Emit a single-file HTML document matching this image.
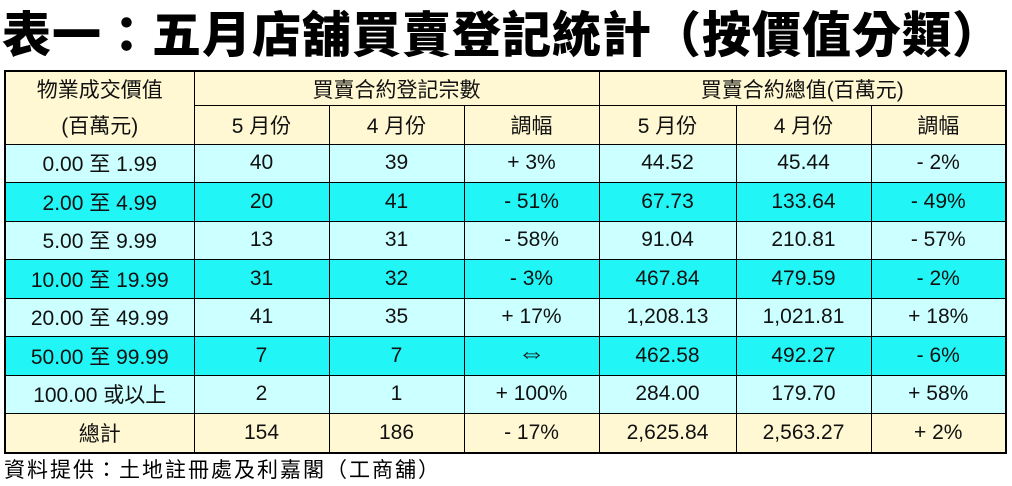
<!DOCTYPE html>
<html><head><meta charset="utf-8"><style>
body{margin:0;width:1012px;height:486px;background:#fff;position:relative;overflow:hidden;font-family:"Liberation Sans","Noto Sans CJK TC",sans-serif;}
#t{position:absolute;left:2px;top:-4px;font-size:49px;font-weight:900;white-space:nowrap;letter-spacing:1px;font-family:"Noto Sans CJK TC","WenQuanYi Zen Hei",sans-serif;}
table{position:absolute;left:4px;top:70px;border-collapse:collapse;font-size:21px;border:2px solid #000;}
td{border:1.5px solid #000;text-align:center;padding:0;height:37.5px;color:#111;}
.h{background:#fff8d2;}
.a{background:#ccffff;}
.b{background:#22f5f5;}
#f{position:absolute;left:4px;top:454px;font-size:21px;letter-spacing:2px;}
.ar{font-size:28px;line-height:20px;}
</style></head><body>
<div id="t">表一：五月店舖買賣登記統計（按價值分類）</div>
<table>
<colgroup><col style="width:189px"><col style="width:135px"><col style="width:135px"><col style="width:135px"><col style="width:137px"><col style="width:135px"><col style="width:135px"></colgroup>
<tr class="h"><td style="border-bottom:none;height:33px">物業成交價值</td><td colspan="3" style="height:33px">買賣合約登記宗數</td><td colspan="3" style="height:33px">買賣合約總值(百萬元)</td></tr>
<tr class="h"><td style="border-top:none">(百萬元)</td><td>5 月份</td><td>4 月份</td><td>調幅</td><td>5 月份</td><td>4 月份</td><td>調幅</td></tr>
<tr class="a"><td>0.00 至 1.99</td><td>40</td><td>39</td><td>+ 3%</td><td>44.52</td><td>45.44</td><td>- 2%</td></tr>
<tr class="b"><td>2.00 至 4.99</td><td>20</td><td>41</td><td>- 51%</td><td>67.73</td><td>133.64</td><td>- 49%</td></tr>
<tr class="a"><td>5.00 至 9.99</td><td>13</td><td>31</td><td>- 58%</td><td>91.04</td><td>210.81</td><td>- 57%</td></tr>
<tr class="b"><td>10.00 至 19.99</td><td>31</td><td>32</td><td>- 3%</td><td>467.84</td><td>479.59</td><td>- 2%</td></tr>
<tr class="a"><td>20.00 至 49.99</td><td>41</td><td>35</td><td>+ 17%</td><td>1,208.13</td><td>1,021.81</td><td>+ 18%</td></tr>
<tr class="b"><td>50.00 至 99.99</td><td>7</td><td>7</td><td><span class="ar">⇔</span></td><td>462.58</td><td>492.27</td><td>- 6%</td></tr>
<tr class="a"><td>100.00 或以上</td><td>2</td><td>1</td><td>+ 100%</td><td>284.00</td><td>179.70</td><td>+ 58%</td></tr>
<tr class="h"><td>總計</td><td>154</td><td>186</td><td>- 17%</td><td>2,625.84</td><td>2,563.27</td><td>+ 2%</td></tr>
</table>
<div id="f">資料提供：土地註冊處及利嘉閣（工商舖）</div>
</body></html>
